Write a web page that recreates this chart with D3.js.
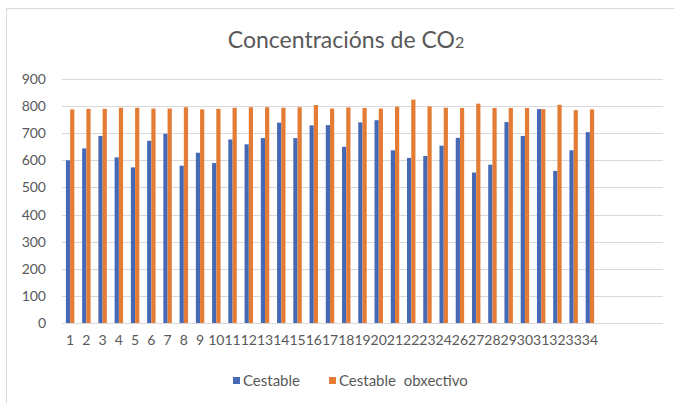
<!DOCTYPE html>
<html>
<head>
<meta charset="utf-8">
<script src="https://cdn.jsdelivr.net/npm/d3@7"></script>
<style>
  body { margin: 0; background: #fff; }
  svg { display: block; font-family: Lato, "Open Sans", sans-serif; }
</style>
</head>
<body>
<div id="chart"></div>
<script>
// category labels as they appear on the axis (25 is not there)
var categories = ["1","2","3","4","5","6","7","8","9","10","11","12","13","14","15","16","17",
    "18","19","20","21","22","23","24","26","27","28","29","30","31","32","33","34"]
var emptySlots = 4

var seriesNames = ["Cestable", "Cestable  obxectivo"]
var cestable = [600, 644, 690, 611, 574, 672, 698, 580, 628, 590, 677, 659, 682, 739, 682, 729, 730,
    650, 740, 748, 637, 609, 616, 654, 683, 555, 584, 741, 690, 789, 561, 637, 704]
var obxectivo = [788, 790, 790, 794, 794, 791, 791, 796, 788, 790, 794, 796, 796, 794, 796, 804, 791,
    795, 793, 791, 798, 824, 799, 794, 793, 809, 793, 793, 793, 789, 805, 785, 788]
var yTicks = [0, 100, 200, 300, 400, 500, 600, 700, 800, 900]

var colors = ["#4669b6", "#e57c35"]

var width = 674, height = 403
var margin = { top: 79, right: 11, bottom: 80, left: 62 }

var svg = d3.select("#chart").append("svg")
    .attr("width", width)
    .attr("height", height)

// outer chart frame
svg.append("rect")
    .attr("x", 6.5).attr("y", 8.5)
    .attr("width", 720).attr("height", 440)
    .attr("fill", "none")
    .attr("stroke", "#d9d9d9")

var title = svg.append("text")
    .attr("x", 346)
    .attr("y", 48)
    .attr("text-anchor", "middle")
    .style("font-size", "23px")
    .style("fill", "#595959")
title.append("tspan").text("Concentracións de CO")
title.append("tspan").style("font-size", "16px").text("2")

var g = svg.append("g")
    .attr("transform", "translate(" + margin.left + "," + margin.top + ")")
var w = width - margin.left - margin.right
var h = height - margin.top - margin.bottom

var slots = d3.range(categories.length + emptySlots)
var x0 = d3.scaleBand()
    .domain(slots)
    .range([0, w])
    .paddingInner(0.48)
    .paddingOuter(0.24)
var x1 = d3.scaleBand()
    .domain([0, 1])
    .range([0, x0.bandwidth()])
var y = d3.scaleLinear()
    .domain([0, 900])
    .range([h, 0])

// gridlines
g.selectAll(".grid")
    .data(yTicks)
    .enter().append("line")
    .attr("x1", 0).attr("x2", w)
    .attr("y1", function (d) { return Math.round(y(d)) + 0.5 })
    .attr("y2", function (d) { return Math.round(y(d)) + 0.5 })
    .attr("stroke", "#d9d9d9")

// y axis labels
var yAxis = g.append("g")
    .call(d3.axisLeft(y).tickValues(yTicks).tickSize(0).tickPadding(16))
yAxis.select(".domain").remove()
yAxis.selectAll("text")
    .style("font-size", "14px")
    .style("font-family", "Lato, sans-serif")
    .style("fill", "#595959")

// x axis labels
var xAxis = g.append("g")
    .attr("transform", "translate(0," + h + ")")
    .call(d3.axisBottom(x0).tickSize(0).tickPadding(12)
        .tickFormat(function (i) { return categories[i] || "" }))
xAxis.select(".domain").remove()
xAxis.selectAll("text")
    .style("font-size", "14px")
    .style("font-family", "Lato, sans-serif")
    .style("fill", "#595959")

// bars
var rows = categories.map(function (c, i) {
    return { i: i, values: [cestable[i], obxectivo[i]] }
})
var groups = g.selectAll(".cat")
    .data(rows)
    .enter().append("g")
    .attr("transform", function (d) { return "translate(" + x0(d.i) + ",0)" })
groups.selectAll("rect")
    .data(function (d) { return d.values.map(function (v, k) { return { k: k, v: v } }) })
    .enter().append("rect")
    .attr("x", function (d) { return x1(d.k) })
    .attr("y", function (d) { return y(d.v) })
    .attr("width", x1.bandwidth())
    .attr("height", function (d) { return h - y(d.v) })
    .attr("fill", function (d) { return colors[d.k] })

// legend
var legendX = [233, 329]
var legend = svg.selectAll(".legend")
    .data(seriesNames)
    .enter().append("g")
    .attr("transform", function (d, i) { return "translate(" + legendX[i] + ",377)" })
legend.append("rect")
    .attr("width", 7).attr("height", 7)
    .attr("fill", function (d, i) { return colors[i] })
legend.append("text")
    .attr("x", 10)
    .attr("y", 9)
    .style("font-size", "15px")
    .style("fill", "#595959")
    .style("white-space", "pre")
    .text(function (d) { return d })
</script>
</body>
</html>
